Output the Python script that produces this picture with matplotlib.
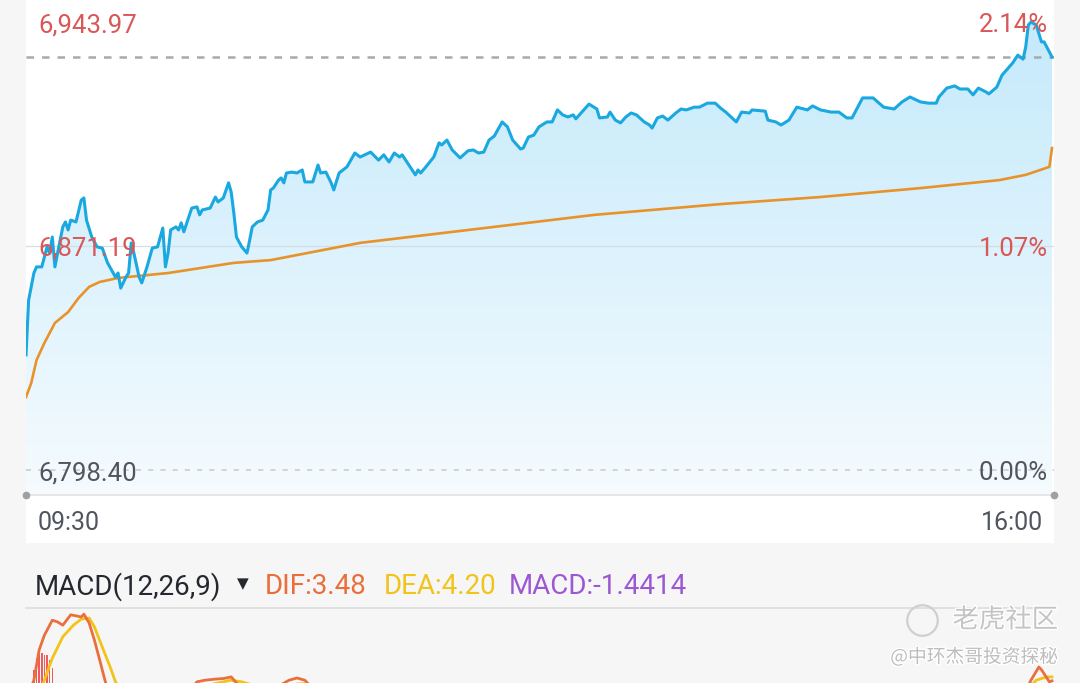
import numpy as np
import matplotlib
matplotlib.use("Agg")
import matplotlib.pyplot as plt
from matplotlib.colors import LinearSegmentedColormap
from matplotlib.lines import Line2D
from matplotlib.patches import Rectangle
from matplotlib.transforms import offset_copy
import matplotlib.patheffects as pe

plt.rcParams['font.family'] = ['Roboto', 'DejaVu Sans']

# ---- data (minutes after 09:30) ----
prev_close = 6798.40
day_high = 6943.97
mid_level = 6871.19

price_min = [0, 1, 3, 4, 6, 8, 9, 10, 11, 12,
             14, 15, 16, 17, 19, 21, 22, 23, 25, 27,
             29, 31, 34, 35, 36, 38, 39, 40, 41, 43,
             44, 46, 48, 50, 52, 53, 54, 55, 57, 58,
             59, 60, 63, 65, 66, 67, 70, 72, 73, 75,
             77, 78, 79, 80, 82, 84, 85, 86, 88, 90,
             92, 93, 94, 96, 97, 98, 99, 101, 103, 105,
             106, 109, 111, 112, 114, 116, 117, 119, 122, 125,
             127, 131, 134, 136, 138, 140, 142, 143, 146, 148,
             149, 150, 152, 155, 157, 158, 160, 162, 165, 168,
             170, 172, 174, 176, 178, 181, 183, 185, 188, 189,
             191, 193, 195, 198, 200, 202, 204, 206, 208, 209,
             211, 214, 217, 218, 221, 222, 224, 226, 228, 230,
             232, 235, 237, 238, 240, 242, 244, 247, 249, 251,
             254, 256, 259, 262, 264, 266, 270, 272, 275, 276,
             281, 282, 285, 287, 290, 293, 297, 299, 302, 306,
             309, 312, 314, 318, 322, 326, 330, 333, 336, 340,
             343, 346, 347, 350, 353, 355, 358, 360, 362, 365,
             366, 369, 371, 375, 377, 379, 380, 381, 382, 384,
             386, 387, 390]
price_val = [6835.8, 6853.6, 6862.4, 6864.4, 6864.4, 6870.9, 6868.9, 6874.1, 6864.4, 6868.9,
             6877.4, 6879.0, 6876.4, 6879.6, 6879.0, 6886.1, 6886.8, 6879.6, 6874.1, 6870.9,
             6870.5, 6865.7, 6861.1, 6862.4, 6857.5, 6861.1, 6862.4, 6872.2, 6868.9, 6861.1,
             6859.2, 6864.4, 6870.5, 6870.9, 6877.0, 6864.4, 6868.9, 6876.4, 6877.4, 6876.4,
             6878.7, 6875.8, 6883.5, 6883.9, 6881.3, 6882.9, 6883.5, 6887.1, 6885.5, 6886.8,
             6891.7, 6888.7, 6881.9, 6874.1, 6870.9, 6868.9, 6873.0, 6877.4, 6879.0, 6879.6,
             6882.9, 6889.4, 6890.0, 6892.6, 6893.3, 6891.7, 6894.9, 6895.2, 6894.9, 6895.9,
             6892.0, 6892.0, 6897.5, 6894.9, 6895.2, 6891.7, 6889.4, 6894.9, 6896.9, 6901.4,
             6900.1, 6901.7, 6899.1, 6900.8, 6898.5, 6901.4, 6900.1, 6900.8, 6896.9, 6894.3,
             6895.9, 6894.9, 6896.9, 6900.1, 6904.7, 6904.0, 6905.6, 6902.4, 6899.8, 6902.1,
             6902.4, 6901.4, 6901.7, 6905.6, 6906.9, 6911.5, 6909.9, 6905.6, 6902.7, 6903.0,
             6906.6, 6907.2, 6909.9, 6911.5, 6911.5, 6915.4, 6913.8, 6913.1, 6913.8, 6912.5,
             6914.4, 6917.3, 6915.7, 6912.8, 6913.1, 6914.7, 6912.1, 6911.2, 6913.1, 6914.4,
             6913.8, 6911.5, 6910.5, 6909.5, 6912.8, 6913.4, 6912.1, 6914.4, 6915.7, 6915.4,
             6916.3, 6916.3, 6917.6, 6917.6, 6916.0, 6914.7, 6911.5, 6914.7, 6914.4, 6915.4,
             6915.0, 6912.1, 6911.5, 6910.5, 6912.1, 6916.3, 6915.4, 6916.7, 6915.4, 6914.7,
             6914.7, 6912.8, 6912.8, 6919.3, 6919.3, 6916.3, 6915.7, 6918.0, 6919.6, 6918.0,
             6917.6, 6917.6, 6919.6, 6922.5, 6923.2, 6922.2, 6922.2, 6920.3, 6922.5, 6921.2,
             6920.6, 6922.8, 6926.7, 6930.6, 6933.2, 6931.9, 6935.8, 6943.0, 6943.97, 6943.0,
             6937.5, 6937.5, 6932.6]

avg_min = [0, 2, 4, 7, 11, 16, 20, 24, 28, 35, 54, 79, 93, 127, 178, 216,
           264, 302, 340, 370, 380, 389, 390]
avg_val = [6822.1, 6826.7, 6834.1, 6839.7, 6846.2, 6849.7, 6854.3, 6857.9,
           6859.5, 6860.8, 6862.4, 6865.7, 6866.6, 6872.2, 6877.4, 6881.3,
           6884.8, 6887.1, 6890.0, 6892.6, 6894.3, 6896.9, 6903.0]

dif_min = [1, 3, 5, 7, 10, 12, 14, 17, 19, 21, 22, 24, 26, 28, 30, 32,
           36, 45, 55, 62, 65, 68, 72, 75, 78, 80, 85, 92, 97, 100, 103,
           106, 110, 120, 150, 200, 250, 300, 340, 370, 378, 380, 382, 385,
           386, 389, 390]
dif_val = [1.0, 3.6, 9.1, 11.8, 14.5, 14.2, 13.6, 15.5, 15.3, 15.1, 15.6,
           14.0, 10.9, 7.3, 3.6, 0.5, -2.5, -3.5, -1.0, 1.5, 3.3, 3.6, 3.8,
           3.9, 4.2, 3.1, 1.0, 1.5, 2.8, 3.6, 4.0, 3.6, 1.5, -0.5, 0.2, 0.8,
           0.5, 0.6, -0.3, 0.4, 1.0, 1.5, 3.6, 6.0, 5.5, 3.3, 3.48]

dea_min = [5, 7, 10, 14, 18, 21, 24, 26, 29, 32, 34, 40, 55, 70, 76, 78,
           82, 90, 100, 106, 115, 150, 200, 250, 300, 350, 370, 380, 384,
           388, 390]
dea_val = [1.5, 3.6, 7.6, 11.5, 13.6, 14.7, 14.9, 13.3, 9.6, 6.0, 3.3, -0.5,
           0.5, 2.8, 3.4, 3.6, 3.3, 2.2, 2.8, 3.0, 2.0, 0.3, 0.6, 0.6, 0.5,
           0.2, 0.5, 1.6, 3.6, 4.2, 4.2]

bar_min = [3, 4, 5, 6, 7, 8, 9, 10]
bar_val = [5.5, 7.6, 8.7, 8.5, 8.2, 8.2, 7.3, 5.8]

time_labels = ["09:30", "16:00"]
macd_header = ["MACD(12,26,9)", "DIF:3.48", "DEA:4.20", "MACD:-1.4414"]

# ---- figure ----
W, H = 1080, 683
fig = plt.figure(figsize=(W / 100, H / 100), dpi=100, facecolor='#f6f6f7')


def fx(px):
    return px / W


def fy(py):
    return 1 - py / H


# white panel behind price chart + time labels
bg = fig.add_axes([fx(26), fy(543), fx(1028), 543 / H])
bg.set_facecolor('white')
bg.axis('off')
bg.add_patch(Rectangle((0, 0), 1, 1, transform=bg.transAxes, color='white'))

ax = fig.add_axes([fx(26), fy(495), fx(1028), 495 / H])
ax.patch.set_alpha(0)

px_per_pt = 448 / (day_high - prev_close)
y_top = day_high + 22 / px_per_pt
y_bot = prev_close - 25 / px_per_pt
x_end = 390 * 1028 / 1026

# gradient fill under the price line
poly = ax.fill_between(price_min, price_val, y_bot, color='none', lw=0)
cmap = LinearSegmentedColormap.from_list('fill', ['#c3e9fb', '#f5fbfe'])
grad = np.linspace(0, 1, 256).reshape(-1, 1)
im = ax.imshow(grad, extent=[0, x_end, y_bot, y_top], aspect='auto',
               cmap=cmap, origin='upper', zorder=1)
im.set_clip_path(poly.get_paths()[0], ax.transData)

ax.axhline(mid_level, color='#d3dee6', lw=0.9, zorder=2)
ax.axhline(prev_close, color='#c6c9cc', lw=1.1, ls=(0, (3.3, 4.7)), zorder=2)
ax.axhline(price_val[-1], color='#a9a9a9', lw=1.8, ls=(0, (3, 3.2)), zorder=2)

ax.plot(avg_min, avg_val, color='#e8922a', lw=1.9, zorder=3)
ax.plot(price_min, price_val, color='#19a8e0', lw=2.2, zorder=4,
        solid_joinstyle='round')

ax.set_xlim(0, x_end)
ax.set_ylim(y_bot, y_top)
for s in ['top', 'left', 'right']:
    ax.spines[s].set_visible(False)
ax.spines['bottom'].set_color('#e2e2e2')
ax.spines['bottom'].set_linewidth(1.2)
ax.set_xticks([])
ax.set_yticks([])
ax.plot([0, x_end], [y_bot, y_bot], 'o', color='#a0a0a0', ms=4.5,
        clip_on=False, zorder=5)

red = '#d95757'
gray = '#50555f'
lx = (38 - 26) / 1028
rx = (1048 - 26) / 1028
tr = offset_copy(ax.get_yaxis_transform(), fig=fig, y=-3, units='dots')
for lvl, col in [(day_high, red), (mid_level, red), (prev_close, gray)]:
    pct = (lvl / prev_close - 1) * 100
    ax.text(lx, lvl, f"{lvl:,.2f}", transform=tr, ha='left', va='center',
            fontsize=18.5, color=col, zorder=6)
    ax.text(rx, lvl, f"{pct:.2f}%", transform=tr, ha='right', va='center',
            fontsize=18.5, color=col, zorder=6)

fig.text(fx(38), fy(523), time_labels[0], ha='left', va='center',
         fontsize=18, color=gray)
fig.text(fx(1043), fy(523), time_labels[1], ha='right', va='center',
         fontsize=18, color=gray)

# ---- MACD header row ----
hy = fy(587)
fig.text(fx(35), hy, macd_header[0], ha='left', va='center', fontsize=20,
         color='#25282e')
fig.text(fx(243), fy(584), "\u25bc", ha='center', va='center', fontsize=11,
         color='#25282e', family=['DejaVu Sans'])
fig.text(fx(265), hy, macd_header[1], ha='left', va='center', fontsize=20,
         color='#ea6e3a')
fig.text(fx(384), hy, macd_header[2], ha='left', va='center', fontsize=20,
         color='#f0c419')
fig.text(fx(509), hy, macd_header[3], ha='left', va='center', fontsize=20,
         color='#9c58d2')
fig.add_artist(Line2D([fx(26), fx(1054)], [fy(608), fy(608)],
                      color='#dcdcdc', lw=1.2, transform=fig.transFigure))

# ---- MACD panel (cut off at the bottom of the screenshot) ----
mx = fig.add_axes([fx(26), 0, fx(1028), (683 - 609) / H])
mx.set_facecolor('white')
mx.bar(bar_min, bar_val, width=0.55, color='#ef5b5b', zorder=2)
mx.plot(dea_min, dea_val, color='#f2c318', lw=2.0, zorder=3)
mx.plot(dif_min, dif_val, color='#ea6f3c', lw=2.0, zorder=4)
mx.set_xlim(0, x_end)
mx.set_ylim((700 - 683) / 5.5, (700 - 609) / 5.5)
mx.axis('off')

# watermark
fig.add_artist(Line2D([fx(922)], [fy(620)], marker='o', ms=22, mfc='none',
                      mec='#cfcfcf', mew=1.6, transform=fig.transFigure))
fig.text(fx(1058), fy(620), "老虎社区", ha='right', va='center', fontsize=19,
         color='#c4c4c4', family=['Noto Sans CJK SC', 'DejaVu Sans'],
         path_effects=[pe.withStroke(linewidth=2, foreground='white')])
fig.text(fx(1058), fy(657), "@中环杰哥投资探秘", ha='right', va='center',
         fontsize=13.5, color='#bdbdbd',
         family=['Noto Sans CJK SC', 'DejaVu Sans'],
         path_effects=[pe.withStroke(linewidth=2, foreground='white')])

fig.savefig('out.png', dpi=100, facecolor=fig.get_facecolor())
